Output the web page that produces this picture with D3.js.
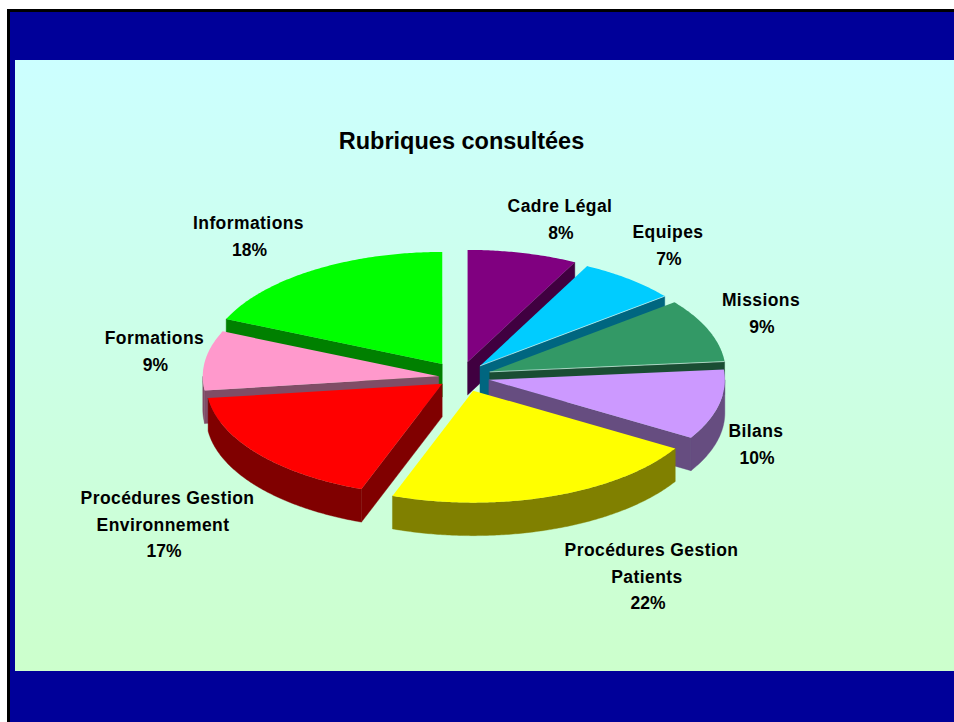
<!DOCTYPE html>
<html lang="fr">
<head>
<meta charset="utf-8">
<title>Rubriques consultées</title>
<script src="https://cdn.jsdelivr.net/npm/d3@7/dist/d3.min.js"></script>
<style>
html,body{margin:0;padding:0;background:#fff;overflow:hidden}
svg{display:block}
text{font-family:"Liberation Sans",Arial,sans-serif;font-weight:bold;fill:#000;text-anchor:middle}
</style>
</head>
<body>
<div id="chart"></div>
<script>
const chartTitle = "Rubriques consultées";
const categories = [
  ["Cadre Légal"], ["Equipes"], ["Missions"], ["Bilans"],
  ["Procédures Gestion", "Patients"],
  ["Procédures Gestion", "Environnement"],
  ["Formations"], ["Informations"]
];
const shares = [7.5, 6.8, 9.2, 10.1, 21.9, 17.4, 8.6, 18.4];
const colours = ["#800080", "#00ccff", "#339966", "#cc99ff", "#ffff00", "#ff0000", "#ff99cc", "#00ff00"];
const labelCentres = [[560, 206.4], [668, 232.4], [761, 300.4], [756, 431.4], [651.5, 550.4], [167.5, 498.4], [154.5, 338.4], [248.5, 223.4]];
const explodeNudgeX = [-2, 0, 2, 0, 1, -1, 1, -7];
const explodeNudgeY = [0, 1, 1, 0, 0, -2, 2, 0];
const litEdges = [1, 2];

const W = 954, H = 722;
const pieC = {x: 463.5, y: 376.5, rx: 236, ry: 112, ex: 26, ey: 15, depth: 33};

const svg = d3.select("#chart").append("svg").attr("width", W).attr("height", H);

// frame and panel
const grad = svg.append("defs").append("linearGradient")
  .attr("id", "panel").attr("x1", 0).attr("y1", 0).attr("x2", 0).attr("y2", 1);
grad.append("stop").attr("offset", "0%").attr("stop-color", "#ccffff");
grad.append("stop").attr("offset", "100%").attr("stop-color", "#ccffcc");
svg.append("rect").attr("x", 7).attr("y", 9).attr("width", W - 7).attr("height", H - 9).attr("fill", "#000");
svg.append("rect").attr("x", 10).attr("y", 12).attr("width", W - 10).attr("height", H - 12).attr("fill", "#000099");
svg.append("rect").attr("x", 15).attr("y", 60).attr("width", W - 15).attr("height", 611).attr("fill", "url(#panel)");

// title
svg.append("text").attr("x", 461.5).attr("y", 148.8).attr("font-size", 23.5).text(chartTitle);

// pie
const pie = d3.pie().sort(null).value(d => d).startAngle(0).endAngle(2 * Math.PI);
const arcs = pie(shares).map((a, i) => {
  const mid = (a.startAngle + a.endAngle) / 2;
  return {
    i, mid, start: a.startAngle, end: a.endAngle,
    cx: pieC.x + pieC.ex * Math.sin(mid) + explodeNudgeX[i],
    cy: pieC.y - pieC.ey * Math.cos(mid) + explodeNudgeY[i]
  };
});
const pt = (s, t) => [s.cx + pieC.rx * Math.sin(t), s.cy - pieC.ry * Math.cos(t)];
const arcPts = (s, a0, a1) => {
  const n = Math.max(2, Math.ceil((a1 - a0) / 0.01));
  return d3.range(n + 1).map(k => pt(s, a0 + (a1 - a0) * k / n));
};
const closed = d3.line().curve(d3.curveLinearClosed);
const open = d3.line();
const drop = p => [p[0], p[1] + pieC.depth];

// a radial edge shows its wall only when the slice lies above it on screen
function edgeVisible(s, t) {
  const a = [s.cx, s.cy], p = pt(s, t), m = pt(s, s.mid);
  if (Math.abs(p[0] - a[0]) < 0.5) return false;
  const yOnEdge = a[1] + (p[1] - a[1]) * (m[0] - a[0]) / (p[0] - a[0]);
  return m[1] < yOnEdge;
}

const order = arcs.slice().sort((a, b) => Math.cos(b.mid) - Math.cos(a.mid));
const g = svg.append("g");
order.forEach(s => {
  const top = d3.color(colours[s.i]);
  const wall = d3.rgb(top.r * 0.5, top.g * 0.5, top.b * 0.5).formatHex();
  [s.start, s.end].forEach(t => {
    if (edgeVisible(s, t)) {
      const a = [s.cx, s.cy], p = pt(s, t);
      g.append("path").attr("d", closed([a, p, drop(p), drop(a)])).attr("fill", wall).attr("stroke", wall).attr("stroke-width", 0.4);
    }
  });
  const lo = Math.max(s.start, Math.PI / 2), hi = Math.min(s.end, 3 * Math.PI / 2);
  if (hi > lo) {
    const rim = arcPts(s, lo, hi);
    g.append("path").attr("d", closed(rim.concat(rim.map(drop).reverse()))).attr("fill", wall).attr("stroke", wall).attr("stroke-width", 0.4);
  }
  g.append("path").attr("d", closed([[s.cx, s.cy]].concat(arcPts(s, s.start, s.end)))).attr("fill", top.formatHex());
  if (litEdges.includes(s.i)) {
    g.append("path").attr("d", open([[s.cx, s.cy], pt(s, s.end)])).attr("fill", "none")
      .attr("stroke", "#e6fff5").attr("stroke-width", 0.8).attr("stroke-opacity", 0.8);
  }
});

// labels
const pct = d3.format(".0f");
categories.forEach((lines, i) => {
  const [x, y] = labelCentres[i];
  const multi = lines.length > 1;
  lines.forEach((t, k) => {
    svg.append("text").attr("x", k > 0 ? x - 4.5 : x).attr("y", y + 6 + k * 26.3)
      .attr("font-size", 17.5).attr("letter-spacing", 0.42).text(t);
  });
  svg.append("text").attr("x", multi ? x - 3.5 : x + 1).attr("y", y + 6 + lines.length * 26.3)
    .attr("font-size", 17.5).text(pct(shares[i]) + "%");
});
</script>
</body>
</html>
